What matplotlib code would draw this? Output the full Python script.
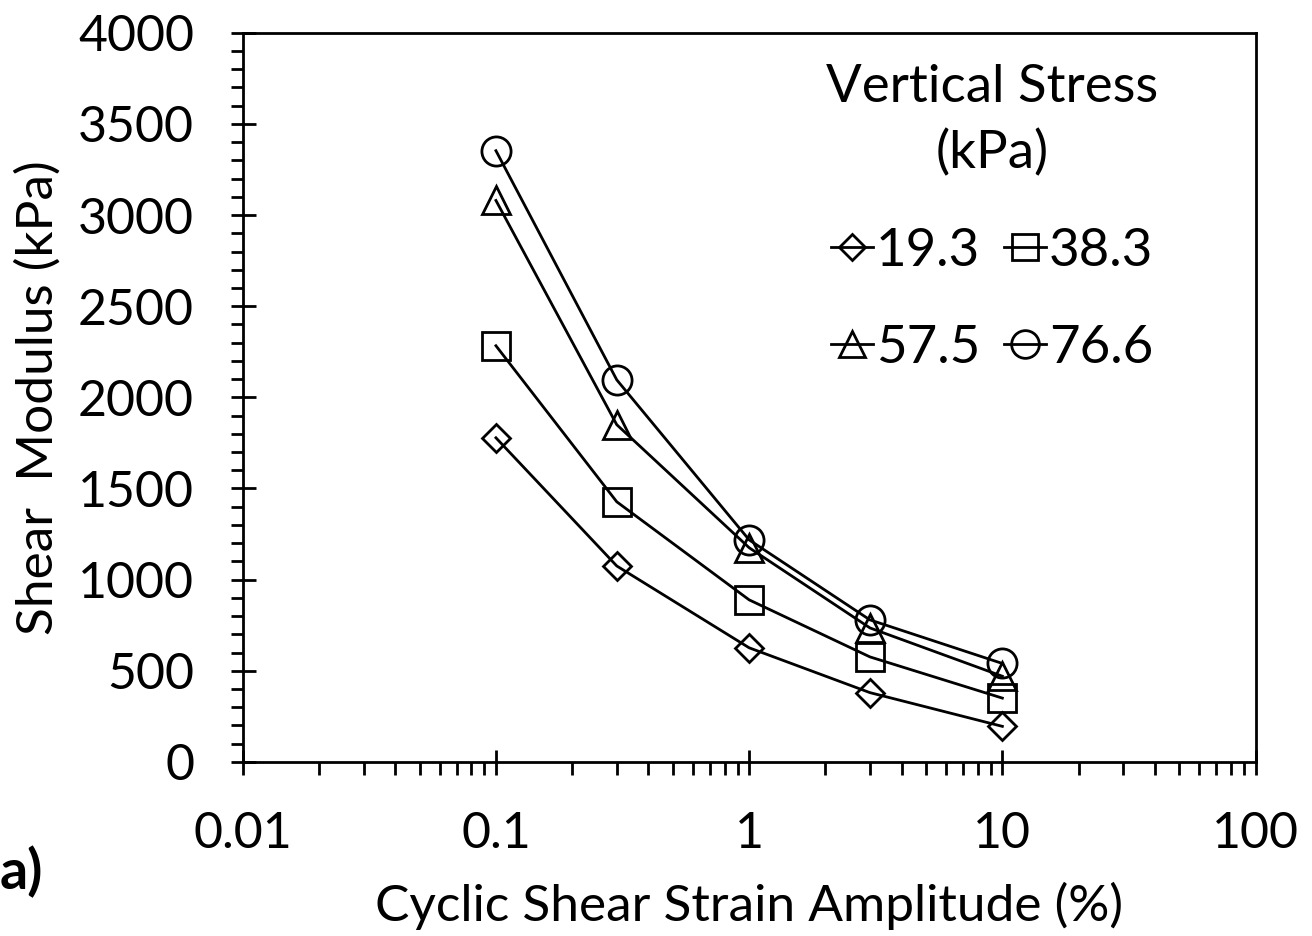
"""Shear modulus vs cyclic shear strain amplitude for four vertical stresses."""

import matplotlib.pyplot as plt
from matplotlib.ticker import FixedLocator, LogLocator, NullFormatter, MultipleLocator

plt.rcParams["font.family"] = ["Lato", "DejaVu Sans"]

strain = [0.1, 0.3, 1.0, 3.0, 10.0]
stress_labels = ["19.3", "38.3", "57.5", "76.6"]
g_19_3 = [1778, 1075, 626, 380, 195]
g_38_3 = [2283, 1427, 889, 576, 350]
g_57_5 = [3080, 1850, 1175, 735, 470]
g_76_6 = [3353, 2096, 1218, 779, 540]
x_ticks = [0.01, 0.1, 1, 10, 100]
x_ticklabels = ["0.01", "0.1", "1", "10", "100"]

series = [g_19_3, g_38_3, g_57_5, g_76_6]
markers = ["D", "s", "^", "o"]
msizes = [14, 20, 20, 21]

fig = plt.figure(figsize=(13.12, 9.36), dpi=100)
ax = fig.add_axes([0.185, 0.186, 0.772, 0.779])

handles = []
for vals, mk, ms, lab in zip(series, markers, msizes, stress_labels):
    h, = ax.plot(strain, vals, color="black", lw=2, marker=mk, ms=ms,
                 mfc="none", mec="black", mew=2, label=lab)
    handles.append(h)

ax.set_xscale("log")
ax.set_xlim(0.01, 100)
ax.set_ylim(0, 4000)
ax.xaxis.set_major_locator(FixedLocator(x_ticks))
ax.set_xticklabels(x_ticklabels)
ax.xaxis.set_minor_locator(LogLocator(base=10, subs=range(2, 10)))
ax.xaxis.set_minor_formatter(NullFormatter())
ax.yaxis.set_major_locator(MultipleLocator(500))
ax.yaxis.set_minor_locator(MultipleLocator(100))

ax.tick_params(which="major", direction="inout", length=18, width=2,
               labelsize=36)
ax.tick_params(axis="x", which="major", pad=26)
ax.tick_params(axis="y", which="major", pad=26)
ax.tick_params(which="minor", direction="out", length=9, width=2)
for sp in ax.spines.values():
    sp.set_linewidth(2)

ax.set_xlabel("Cyclic Shear Strain Amplitude (%)", fontsize=37, labelpad=18)
ax.set_ylabel("Shear  Modulus (kPa)", fontsize=37, labelpad=12)

# legend reads row-wise: 19.3, 38.3 / 57.5, 76.6
order = [0, 2, 1, 3]
leg = ax.legend([handles[i] for i in order], [stress_labels[i] for i in order],
                title="Vertical Stress\n(kPa)", ncol=2, frameon=False,
                fontsize=38, title_fontsize=38, loc="upper center",
                bbox_to_anchor=(0.74, 1.0), handlelength=0.8,
                handletextpad=0.05, columnspacing=0.45, labelspacing=0.95,
                markerscale=0.95, borderaxespad=0.2)
leg.get_title().set_multialignment("center")
leg.get_title().set_linespacing(1.45)

fig.text(0.0, 0.05, "a)", fontsize=40, fontweight="bold")

fig.savefig("out.png", dpi=100)
